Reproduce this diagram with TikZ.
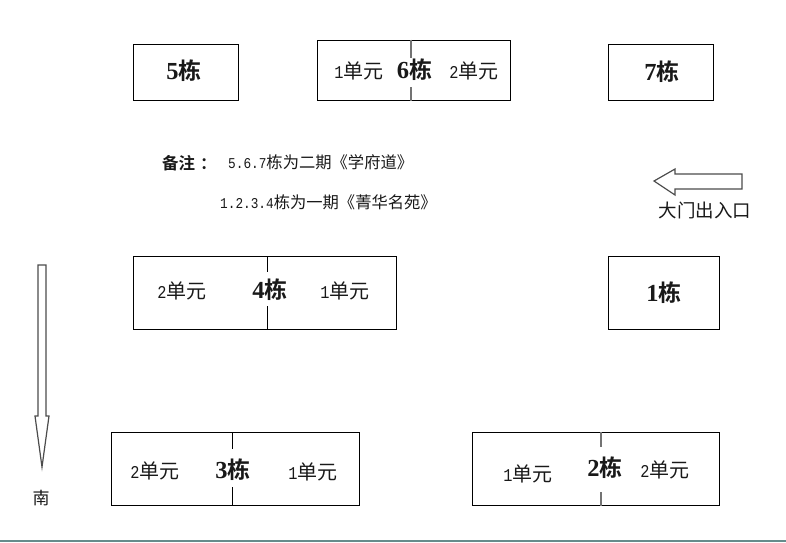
\documentclass[tikz,border=0pt]{standalone}
\usepackage{fontspec}
\setmainfont{Liberation Serif}
\newfontfamily\cjkf{Noto Sans CJK SC}
\newfontfamily\monof{Liberation Mono}[FakeStretch=0.85]
\newfontfamily\cjkb{Noto Sans CJK SC}[BoldFont={Noto Sans CJK SC Bold}]
\newcommand{\unitlbl}[1]{{\fontsize{18}{16}\monof #1\fontsize{20}{18}\cjkf 单元}}
\newcommand{\bldg}[1]{{\fontsize{24.5}{24}\bfseries\rmfamily #1\cjkb\bfseries\fontsize{23}{24}\selectfont 栋}}
\tikzset{
  bldbox/.style={draw=black,line width=1pt,inner sep=0pt,anchor=north west},
  txt/.style={inner sep=0pt,text=black!90},
  divider/.style={draw=black,line width=1pt},
  greydiv/.style={draw=black!55,line width=1.3pt},
  blockarrow/.style={draw=black!70,line width=1.2pt,fill=white,line join=miter}
}
\begin{document}
\begin{tikzpicture}[x=1pt,y=-1pt]
\useasboundingbox (0,0) rectangle (786,542);
% buildings
\node[bldbox,minimum width=105pt,minimum height=56pt] (b5) at (133,44) {};
\node[bldbox,minimum width=193pt,minimum height=60pt] (b6) at (316.5,39.5) {};
\node[bldbox,minimum width=105pt,minimum height=56pt] (b7) at (608,44) {};
\node[bldbox,minimum width=263pt,minimum height=73pt] (b4) at (133,256) {};
\node[bldbox,minimum width=111pt,minimum height=73pt] (b1) at (608,256) {};
\node[bldbox,minimum width=248pt,minimum height=73pt] (b3) at (111,432) {};
\node[bldbox,minimum width=247pt,minimum height=73pt] (b2) at (472,432) {};
% dividers
\coordinate (d6a) at (411,58); \coordinate (d6b) at (411,87);
\coordinate (d4a) at (267.5,272); \coordinate (d4b) at (267.5,306);
\coordinate (d3a) at (232.5,449); \coordinate (d3b) at (232.5,487);
\coordinate (d2a) at (601,447); \coordinate (d2b) at (601,492);
\draw[greydiv] (b6.north -| d6a) -- (d6a);
\draw[greydiv] (d6b) -- (b6.south -| d6b);
\draw[divider] (b4.north -| d4a) -- (d4a);
\draw[divider] (d4b) -- (b4.south -| d4b);
\draw[divider] (b3.north -| d3a) -- (d3a);
\draw[divider] (d3b) -- (b3.south -| d3b);
\draw[greydiv] (b2.north -| d2a) -- (d2a);
\draw[greydiv] (d2b) -- (b2.south -| d2b);
% building labels
\node[txt] (l5) at (184,71) {\bldg{5}};
\node[txt] (l6) at (414.5,70) {\bldg{6}};
\node[txt] (l7) at (662,72) {\bldg{7}};
\node[txt] (l4) at (270,290) {\bldg{4}};
\node[txt] (l1) at (664,293) {\bldg{1}};
\node[txt] (l3) at (233,470) {\bldg{3}};
\node[txt] (l2) at (605,468) {\bldg{2}};
% unit labels
\node[txt] (u61) at (359,71) {\unitlbl{1}};
\node[txt] (u62) at (474,71) {\unitlbl{2}};
\node[txt] (u42) at (182,291) {\unitlbl{2}};
\node[txt] (u41) at (345,291) {\unitlbl{1}};
\node[txt] (u32) at (155,471) {\unitlbl{2}};
\node[txt] (u31) at (313,472) {\unitlbl{1}};
\node[txt] (u21) at (528,474) {\unitlbl{1}};
\node[txt] (u22) at (665,470) {\unitlbl{2}};
% notes
\node[txt,anchor=west] (n0) at (162,163) {\fontsize{16.5}{18}\cjkb\bfseries\selectfont 备注\hspace{5pt}：};
\node[txt,anchor=west] (n1) at (228,162) {\fontsize{15}{16}\monof 5.6.7\fontsize{16.3}{18}\cjkf 栋为二期《学府道》};
\node[txt,anchor=west] (n2) at (220,202) {\fontsize{15}{16}\monof 1.2.3.4\fontsize{16.3}{18}\cjkf 栋为一期《菁华名苑》};
% arrows
\draw[blockarrow] (654,181) -- (675,169) -- (675,174) -- (742,174) -- (742,189) -- (675,189) -- (675,195) -- cycle;
\draw[blockarrow] (38,265) -- (46,265) -- (46,416) -- (49,416) -- (42,467) -- (35,416) -- (38,416) -- cycle;
\node[txt] (gate) at (705,210) {\fontsize{18.5}{20}\cjkf 大门出入口};
\node[txt] (south) at (41,498) {\fontsize{17}{20}\cjkf 南};
% bottom edge
\draw[draw=black!50!teal!60,line width=1.2pt] (0,541) -- (786,541);
\end{tikzpicture}
\end{document}
